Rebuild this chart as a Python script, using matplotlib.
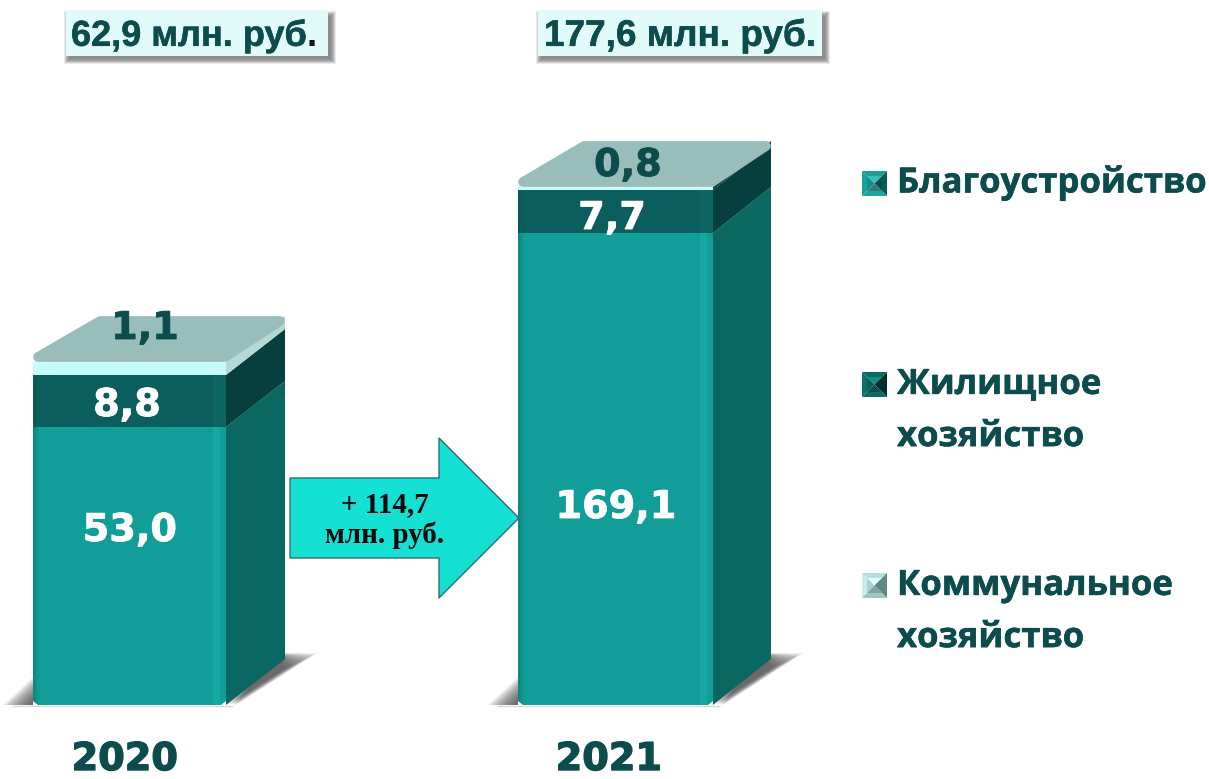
#!/usr/bin/env python
# -*- coding: utf-8 -*-
import numpy as np
import matplotlib
matplotlib.use("Agg")
import matplotlib.pyplot as plt
import matplotlib.patheffects as pe
from matplotlib.patches import Polygon, Rectangle

# ----------- data -----------
years = ["2020", "2021"]
blag = [53.0, 169.1]      # Благоустройство
zhil = [8.8, 7.7]         # Жилищное хозяйство
komm = [1.1, 0.8]         # Коммунальное хозяйство
blag_labels = ["53,0", "169,1"]
zhil_labels = ["8,8", "7,7"]
komm_labels = ["1,1", "0,8"]
totals = ["62,9 млн. руб", "177,6 млн. руб."]
delta = "+ 114,7\nмлн. руб."
legend_names = ["Благоустройство", "Жилищное\nхозяйство", "Коммунальное\nхозяйство"]

# ----------- style -----------
C_TEXT = "#0c4c4c"
C_FRONT = "#129e98"
C_FRONT_HI = "#15a9a2"
C_SIDE = "#0b6761"
C_DARK = "#0a5e5d"
C_DARK_SIDE = "#063f3e"
C_CAP = "#c6fbf9"
C_TOP = "#99bdba"
FLOOR = 705
W, H = 1209, 779

# the original chart is not linear, the axis is bent to what the picture shows
scale_v = [-1000, 0, 53.0, 61.8, 62.9, 169.1, 176.8, 177.6, 1000]
scale_p = [-1000, 0, 278, 330, 343, 472, 515, 518, 1340.4]


def forward(v):
    return np.interp(v, scale_v, scale_p)


def inverse(p):
    return np.interp(p, scale_p, scale_v)


def py(y):
    """image row -> axis value"""
    return inverse(FLOOR - np.asarray(y, dtype=float))


def up(v, px):
    return inverse(forward(v) + px)


def poly(ax, pts, color, z=2, **kw):
    kw.setdefault("lw", 0)
    p = Polygon(pts, closed=True, facecolor=color, edgecolor=kw.pop("ec", color), zorder=z, **kw)
    ax.add_patch(p)
    return p


def soft_shadow(ax, pts_far, pts_near, n=18, z=1):
    # nested polygons, a cheap way to get a blurred edge
    pts_far = np.array(pts_far, dtype=float)
    pts_near = np.array(pts_near, dtype=float)
    for i in range(n):
        t = i / (n - 1)
        pts = pts_far * (1 - t) + pts_near * t
        ax.add_patch(Polygon([(x, py(y)) for x, y in pts], closed=True, facecolor="#444444",
                             edgecolor="none", alpha=0.08, zorder=z))


def bar3d(ax, x0, x1, dx, dy, v1, v2, v3, side_cap):
    top = v1 + v2 + v3
    v12 = v1 + v2
    # front faces
    for a, b, c in [(0, v1, C_FRONT), (v1, v12, C_DARK)]:
        ax.bar((x0 + x1) / 2, b - a, bottom=a, width=x1 - x0, color=c, linewidth=0, zorder=3)
    ax.bar((x0 + x1) / 2, top - v12, bottom=v12, width=x1 - x0, color=C_CAP, linewidth=0, zorder=3)
    # darker rim on the left, highlight on the right of the front
    for i, al in enumerate([0.3, 0.2, 0.12, 0.06]):
        ax.add_patch(Rectangle((x0 + i * 1.5, 0), 1.5, v12, facecolor="#06504e", alpha=al, lw=0, zorder=4))
    ax.add_patch(Rectangle((x1 - 13, 0), 7, v1, facecolor=C_FRONT_HI, lw=0, zorder=4))
    ax.add_patch(Rectangle((x1 - 13, v1), 13, v2, facecolor="#0b6563", lw=0, zorder=4))
    # sides
    poly(ax, [(x1, 0), (x1, v1), (x1 + dx, up(v1, dy)), (x1 + dx, up(0, dy))], C_SIDE)
    poly(ax, [(x1, v1), (x1, v12), (x1 + dx, up(v12, dy)), (x1 + dx, up(v1, dy))], C_DARK_SIDE)
    poly(ax, [(x1, v12), (x1, top), (x1 + dx, up(top, dy)), (x1 + dx, up(v12, dy))], side_cap)
    # top face, inset a bit and drawn with a thick round edge for the soft corners
    r = 5
    poly(ax, [(x0 + r, up(top, r)), (x1 - 1, up(top, r)), (x1 + dx - r, up(top, dy - r)),
              (x0 + dx + 8, up(top, dy - r))], C_TOP, ec=C_TOP, lw=7, joinstyle="round", z=4)
    # rounded bottom corners of the front
    for cx, s in [(x0, 1), (x1, -1)]:
        poly(ax, [(cx, 0), (cx + s * 5, 0), (cx, up(0, 4))], "white", z=5)


def bevel_icon(ax, x, y, s, colors):
    top_out, side_out, right_out, bot_out, top_in, left_in, right_in, bot_in = colors
    b = 5
    c = x + s / 2
    m = y + s / 2
    pts = lambda lst: [(a, py(d)) for a, d in lst]
    poly(ax, pts([(x, y), (x + s, y), (x + s - b, y + b), (x + b, y + b)]), top_out, z=5)
    poly(ax, pts([(x, y), (x + b, y + b), (x + b, y + s - b), (x, y + s)]), side_out, z=5)
    poly(ax, pts([(x + s, y), (x + s, y + s), (x + s - b, y + s - b), (x + s - b, y + b)]), right_out, z=5)
    poly(ax, pts([(x, y + s), (x + s, y + s), (x + s - b, y + s - b), (x + b, y + s - b)]), bot_out, z=5)
    poly(ax, pts([(x + b, y + b), (x + s - b, y + b), (c, m)]), top_in, z=5)
    poly(ax, pts([(x + b, y + b), (x + b, y + s - b), (c, m)]), left_in, z=5)
    poly(ax, pts([(x + s - b, y + b), (x + s - b, y + s - b), (c, m)]), right_in, z=5)
    poly(ax, pts([(x + b, y + s - b), (x + s - b, y + s - b), (c, m)]), bot_in, z=5)


# -----------------  Plot Start  -----------------
fig = plt.figure(figsize=(W / 100, H / 100), dpi=100, facecolor="white")
ax = fig.add_axes([0, 0, 1, 1])
ax.set_yscale("function", functions=(forward, inverse))
ax.set_xlim(0, W)
ax.set_ylim(py(H), py(0))
ax.axis("off")

x_left = [33, 518]
x_right = [226, 713]
depth_x = [59, 58]
depth_y = 46
side_caps = ["#b4d8d5", C_DARK_SIDE]

for i in range(2):
    x0, x1, dx = x_left[i], x_right[i], depth_x[i]
    # floor shadow
    soft_shadow(ax, [(x0 - 30, FLOOR), (x0 + 10, FLOOR), (x0 + 10, 668)],
                [(x0 - 2, FLOOR), (x0 + 10, FLOOR), (x0 + 10, 692)])
    soft_shadow(ax, [(x1 + 10, FLOOR), (x1 + dx + 32, 653), (x1 + dx - 10, 653)],
                [(x1 + 2, FLOOR - 1), (x1 + dx + 1, 668), (x1 + dx - 10, 653)])
    ax.plot([x0 - 20, x1 + 6], [py(FLOOR + 0.5)] * 2, color="#d8d8d8", lw=1, zorder=1)
    bar3d(ax, x0, x1, dx, depth_y, blag[i], zhil[i], komm[i], side_caps[i])

# value labels
val_font = dict(family="DejaVu Sans", weight="bold", size=27.5, ha="center", va="center", zorder=8)
blag_pos = [(130, 531), (616, 508)]
zhil_pos = [(127, 406), (612, 219)]
komm_pos = [(145, 329), (628, 166)]
for i in range(2):
    for pos, lab, col in [(blag_pos[i], blag_labels[i], "white"), (zhil_pos[i], zhil_labels[i], "white"),
                          (komm_pos[i], komm_labels[i], C_TEXT)]:
        t = ax.text(pos[0], py(pos[1]), lab, color=col, **val_font)
        t.set_path_effects([pe.withStroke(linewidth=0.6, foreground=col)])

# years
year_x = [125, 609]
for i in range(2):
    t = ax.text(year_x[i], py(760), years[i], color=C_TEXT, family="DejaVu Sans", weight="bold",
                size=27.5, ha="center", va="center", zorder=8)
    t.set_path_effects([pe.withStroke(linewidth=1.0, foreground=C_TEXT)])

# totals on top
box_x = [(66, 328), (538, 822)]
for i in range(2):
    a, b = box_x[i]
    for k in range(7):
        g = 5 - k * 0.8
        ax.add_patch(Rectangle((a + 3 - g, py(59 + g)), b - a + 2 * g, py(16 - g) - py(59 + g),
                               facecolor="#333333", alpha=0.11, lw=0, zorder=1))
    ax.add_patch(Rectangle((a, py(56)), b - a, py(10) - py(56), facecolor="#e1fbfb", lw=0, zorder=2))
stroke = [pe.withStroke(linewidth=0.4, foreground=C_TEXT)]
t1 = ax.text(71, py(36), totals[0], color=C_TEXT, family="Liberation Sans", weight="bold",
             size=26, ha="left", va="center", zorder=8, path_effects=stroke)
ax.annotate(".", xy=(1, 0), xycoords=t1, color="#111111", family="Liberation Sans", weight="bold",
            size=26, ha="left", va="bottom", zorder=8)
ax.text(544, py(36), totals[1], color=C_TEXT, family="Liberation Sans", weight="bold",
        size=26.6, ha="left", va="center", zorder=8, path_effects=stroke)

# arrow
arrow_pts = [(290, 478), (439, 478), (439, 438), (519, 518), (439, 598), (439, 558), (290, 558)]
poly(ax, [(x, py(y)) for x, y in arrow_pts], "#14e0d4", z=6, ec="#2f6f6c", lw=1)
ax.text(385, py(520), delta, color="#0a0a0a", family="Liberation Serif", weight="bold", size=21,
        ha="center", va="center", linespacing=1.12, zorder=8)

# legend
icon_y = [171, 372, 573]
icon_col = [("#1c9f99", "#17a39b", "#0a5a58", "#1aa59e", "#35c0b6", "#138c87", "#0a4f4e", "#2f7c78"),
            ("#0c6a66", "#0e6f6b", "#052f2f", "#0d6a66", "#148a85", "#0b5f5c", "#042f2f", "#0e4f4d"),
            ("#b4dedb", "#c8ecea", "#5f8784", "#9cc6c3", "#e6fffe", "#a8d2cf", "#5f8784", "#7fa5a2")]
leg_y = [183, 411, 612]
for i in range(3):
    bevel_icon(ax, 862, icon_y[i], 25, icon_col[i])
    t = ax.text(897, py(leg_y[i]), legend_names[i], color=C_TEXT, family="Open Sans", weight="bold",
                size=25, ha="left", va="center", linespacing=1.6, zorder=8)
    t.set_path_effects([pe.withStroke(linewidth=0.4, foreground=C_TEXT)])

plt.savefig("out.png", dpi=100, facecolor="white")
